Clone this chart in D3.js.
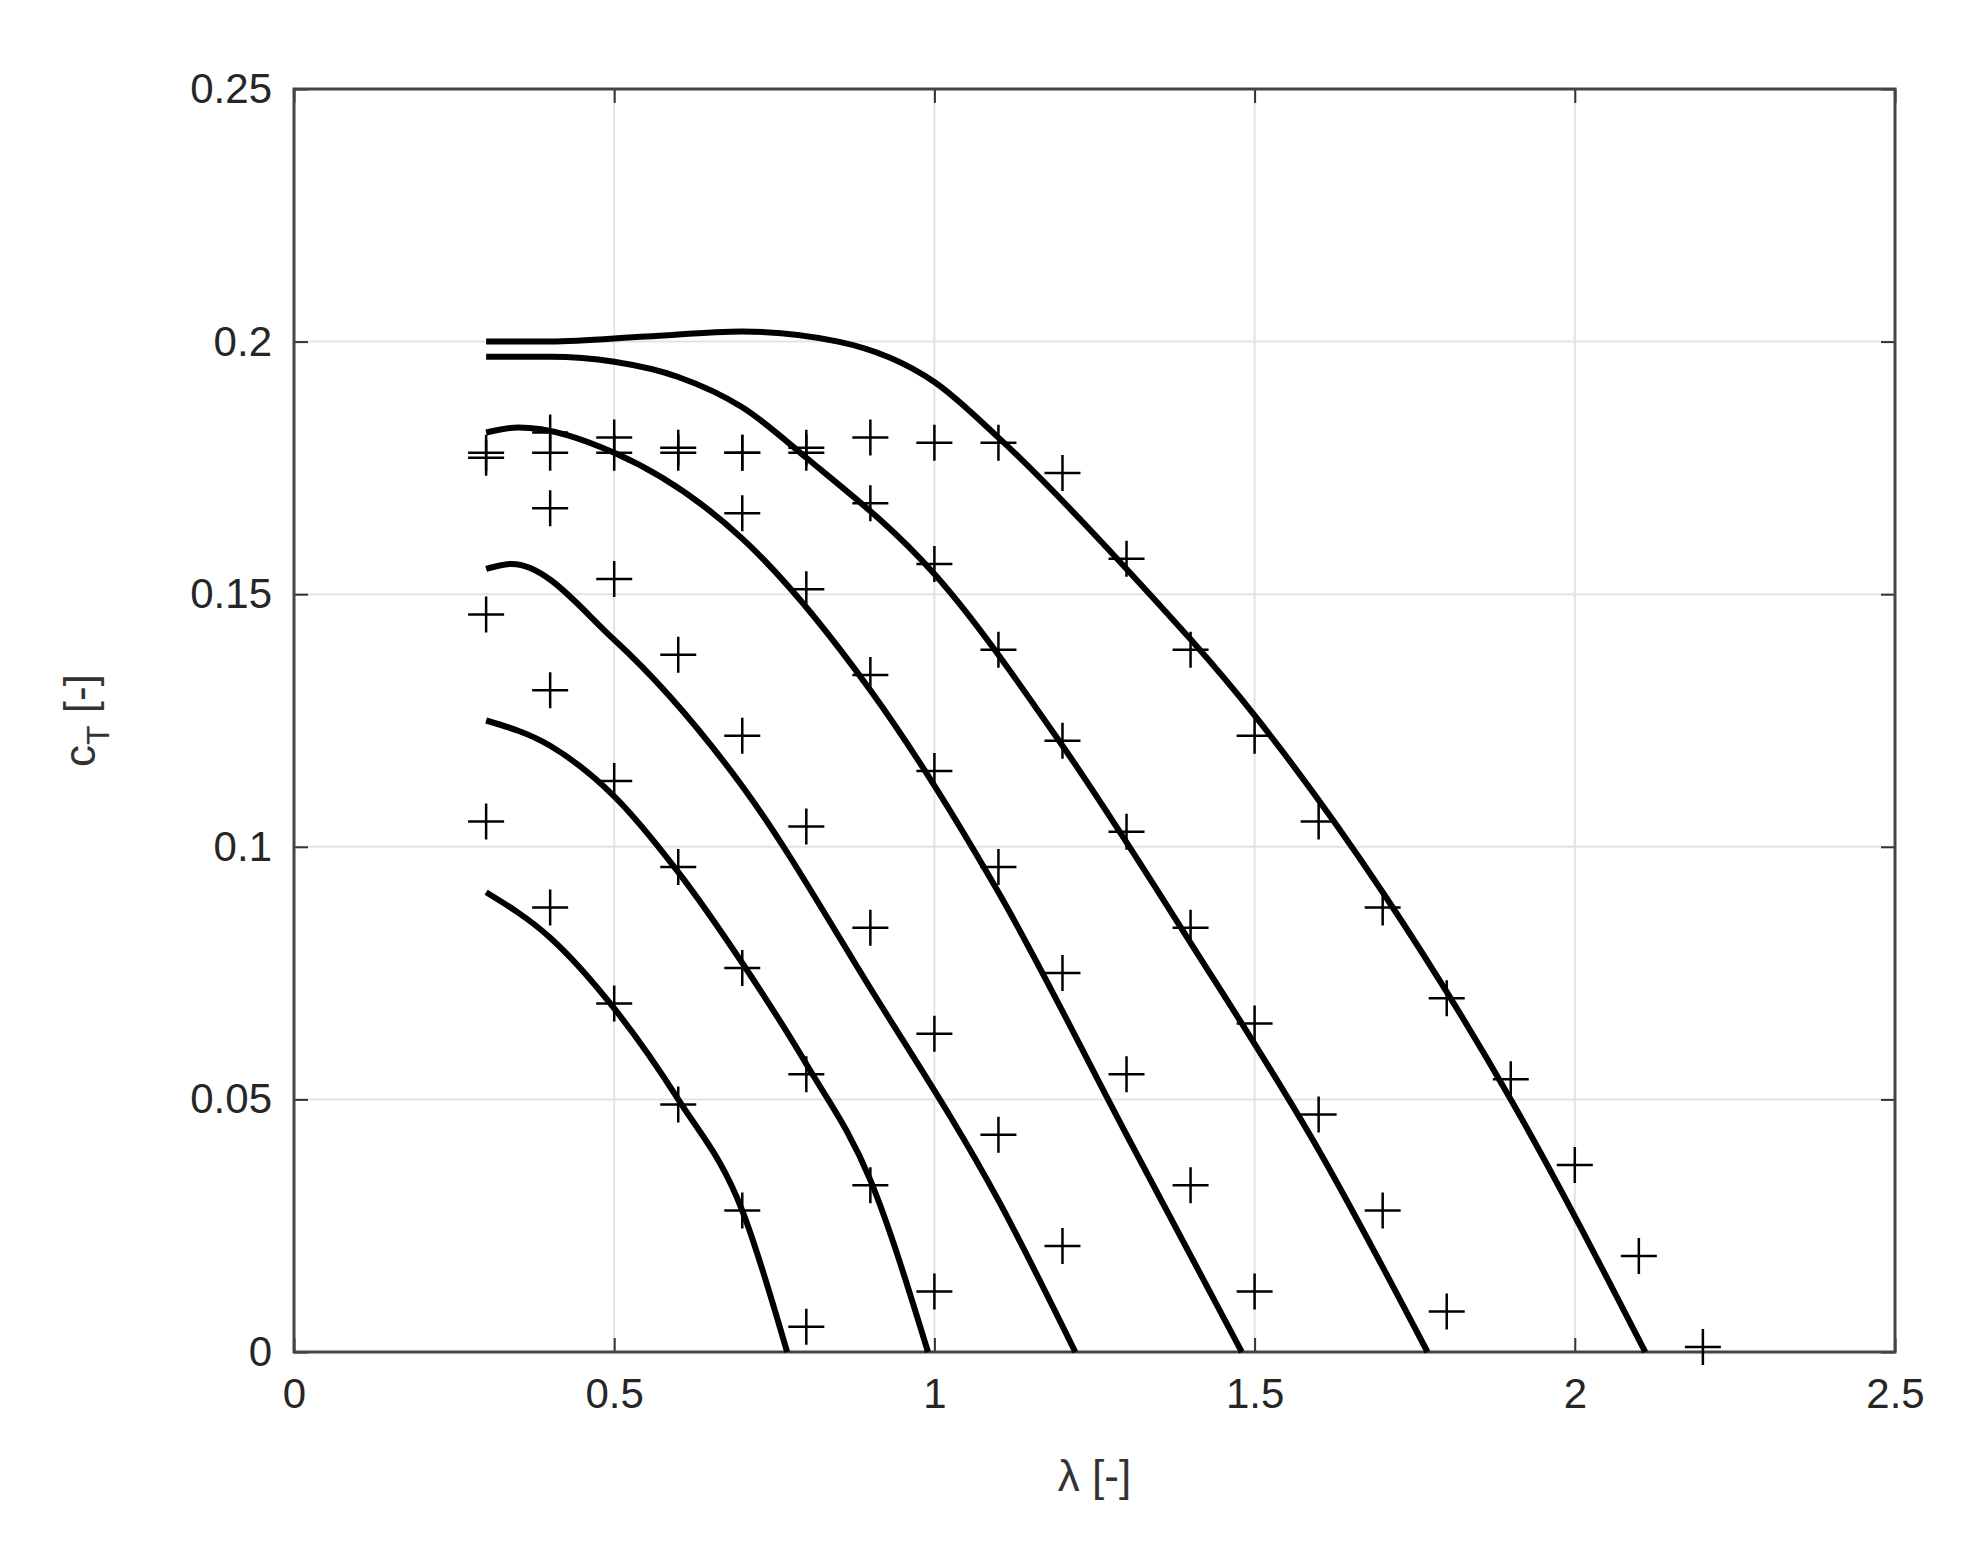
<!DOCTYPE html>
<html><head><meta charset="utf-8">
<script src="https://cdn.jsdelivr.net/npm/d3@7"></script>
<style>body{margin:0;background:#fff}</style></head>
<body><div id="chart"></div>
<script>
// simulated curves, one per setting
const curves = [
  [[0.3,0.091],[0.4,0.082],[0.5,0.068],[0.6,0.05],[0.7,0.028],[0.77,0]],
  [[0.3,0.125],[0.4,0.12],[0.5,0.11],[0.6,0.095],[0.7,0.077],[0.8,0.057],[0.9,0.034],[0.99,0]],
  [[0.3,0.155],[0.34,0.156],[0.5,0.141],[0.7,0.112],[0.9,0.072],[1.1,0.03],[1.22,0]],
  [[0.3,0.182],[0.35,0.183],[0.5,0.178],[0.7,0.161],[0.9,0.131],[1.1,0.091],[1.3,0.043],[1.48,0]],
  [[0.3,0.197],[0.4,0.197],[0.5,0.196],[0.6,0.193],[0.7,0.187],[0.8,0.177],[1.0,0.154],[1.2,0.12],[1.4,0.081],[1.6,0.04],[1.77,0]],
  [[0.3,0.2],[0.4,0.2],[0.55,0.201],[0.7,0.202],[0.85,0.2],[1.0,0.192],[1.1,0.181],[1.3,0.155],[1.5,0.126],[1.7,0.091],[1.9,0.05],[2.11,0]]
];
// measured points
const measX = [0.3,0.4,0.5,0.6,0.7,0.8,0.9,1.0,1.1,1.2,1.3,1.4,1.5,1.6,1.7,1.8,1.9,2.0,2.1,2.2];
const measY = [
  [0.178,0.177,0.146,0.105],
  [0.182,0.178,0.167,0.131,0.088],
  [0.181,0.178,0.153,0.113,0.069],
  [0.179,0.178,0.138,0.096,0.049],
  [0.178,0.178,0.166,0.122,0.076,0.028],
  [0.179,0.178,0.151,0.104,0.055,0.005],
  [0.181,0.168,0.134,0.084,0.033],
  [0.18,0.156,0.115,0.063,0.012],
  [0.18,0.139,0.096,0.043],
  [0.174,0.121,0.075,0.021],
  [0.157,0.103,0.055],
  [0.139,0.084,0.033],
  [0.122,0.065,0.012],
  [0.105,0.047],
  [0.088,0.028],
  [0.07,0.008],
  [0.054],[0.037],[0.019],[0.001]
];
const xTicks = [0,0.5,1,1.5,2,2.5];
const yTicks = [0,0.05,0.1,0.15,0.2,0.25];

const W = 1975, H = 1561;
const m = {top: 89, right: 80, bottom: 209, left: 294};
const w = W - m.left - m.right, h = H - m.top - m.bottom;
const svg = d3.select('#chart').append('svg').attr('width', W).attr('height', H);
const g = svg.append('g').attr('transform', `translate(${m.left},${m.top})`);
const x = d3.scaleLinear().domain([0,2.5]).range([0,w]);
const y = d3.scaleLinear().domain([0,0.25]).range([h,0]);

// grid
g.selectAll('.gx').data(xTicks).join('line').attr('x1',d=>x(d)).attr('x2',d=>x(d))
  .attr('y1',0).attr('y2',h).attr('stroke','#e3e3e3').attr('stroke-width',2);
g.selectAll('.gy').data(yTicks).join('line').attr('y1',d=>y(d)).attr('y2',d=>y(d))
  .attr('x1',0).attr('x2',w).attr('stroke','#e3e3e3').attr('stroke-width',2);

const font = 'Liberation Sans, Arial, sans-serif';
const styleAxis = sel => {
  sel.select('.domain').remove();
  sel.selectAll('line').attr('stroke','#333').attr('stroke-width',2);
  sel.selectAll('text').attr('font-size',42).attr('font-family',font).attr('fill','#262626');
};
g.append('g').attr('transform',`translate(0,${h})`)
  .call(d3.axisBottom(x).tickValues(xTicks).tickFormat(d3.format('')).tickSizeInner(-14).tickPadding(26)).call(styleAxis);
g.append('g').call(d3.axisTop(x).tickValues(xTicks).tickFormat('').tickSizeInner(-14)).call(styleAxis);
g.append('g').call(d3.axisLeft(y).tickValues(yTicks).tickFormat(d3.format('')).tickSizeInner(-14).tickPadding(22)).call(styleAxis);
g.append('g').attr('transform',`translate(${w},0)`)
  .call(d3.axisRight(y).tickValues(yTicks).tickFormat('').tickSizeInner(-14)).call(styleAxis);
g.append('rect').attr('width',w).attr('height',h).attr('fill','none').attr('stroke','#444').attr('stroke-width',3);

// curves
const line = d3.line().x(d=>x(d[0])).y(d=>y(d[1])).curve(d3.curveMonotoneX);
g.selectAll('.curve').data(curves).join('path').attr('d',line)
  .attr('fill','none').attr('stroke','#000').attr('stroke-width',6);

// markers
const pts = measX.flatMap((xv,i)=>measY[i].map(yv=>[xv,yv]));
const s = 18;
g.selectAll('.mk').data(pts).join('path')
  .attr('d',d=>`M${x(d[0])-s},${y(d[1])}H${x(d[0])+s}M${x(d[0])},${y(d[1])-s}V${y(d[1])+s}`)
  .attr('stroke','#000').attr('stroke-width',2.5).attr('fill','none');

// labels
svg.append('text').attr('x',m.left+w/2).attr('y',H-70).attr('text-anchor','middle')
  .attr('font-size',44).attr('font-family',font).attr('fill','#333').text('λ [-]');
const yl = svg.append('text').attr('transform',`translate(95,${m.top+h/2}) rotate(-90)`)
  .attr('text-anchor','middle').attr('font-size',44).attr('font-family',font).attr('fill','#333');
yl.append('tspan').text('c');
yl.append('tspan').attr('font-size',32).attr('dy',14).text('T');
yl.append('tspan').attr('dy',-14).text(' [-]');
</script></body></html>
